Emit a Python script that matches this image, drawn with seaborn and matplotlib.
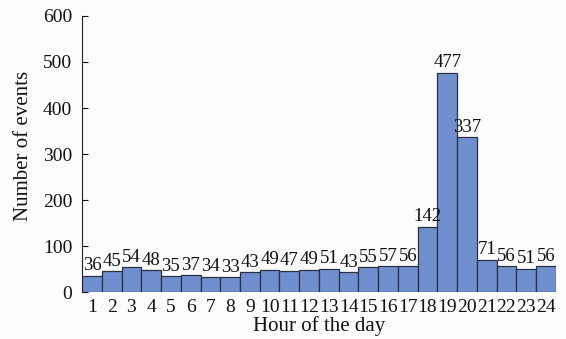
import pandas as pd
import numpy as np
import matplotlib.pyplot as plt
import seaborn as sns

# Hourly event counts
hours = [str(h) for h in range(1, 25)]
events = [36, 45, 54, 48, 35, 37, 34, 33, 43, 49, 47, 49,
          51, 43, 55, 57, 56, 142, 477, 337, 71, 56, 51, 56]
y_ticks = [0, 100, 200, 300, 400, 500, 600]

df = pd.DataFrame({"hour": hours, "events": events})

sns.set_theme(style="ticks")
plt.rcParams['font.family'] = ['Liberation Serif', 'DejaVu Serif']

fig = plt.figure(figsize=(5.66, 3.39), dpi=100, facecolor='#fbfbfb')
ax = fig.add_axes([0.145, 0.138, 0.837, 0.815])
ax.set_facecolor('#fbfbfb')

sns.barplot(data=df, x="hour", y="events", color='#6f8fcf', saturation=1,
            width=1.0, edgecolor='#2b3140', linewidth=0.9, ax=ax)
ax.bar_label(ax.containers[0], fontsize=13.5, padding=1, color='#111111')

ax.set_xlim(-0.5, 23.5)
ax.set_ylim(0, 600)
ax.set_yticks(y_ticks)
ax.tick_params(axis='y', labelsize=14, length=4.5, width=0.8, direction='in',
               pad=7, colors='#111111')
ax.tick_params(axis='x', labelsize=14, length=0, pad=5, colors='#111111')
ax.set_xlabel("Hour of the day", fontsize=15, labelpad=0, color='#111111')
ax.set_ylabel("Number of events", fontsize=15, color='#111111')
ax.yaxis.set_label_coords(-0.103, 0.53)

sns.despine(ax=ax, top=True, right=True, bottom=True)
ax.spines['left'].set_linewidth(0.8)
ax.spines['left'].set_color('#222222')

plt.savefig("out.png", dpi=100, facecolor=fig.get_facecolor())
